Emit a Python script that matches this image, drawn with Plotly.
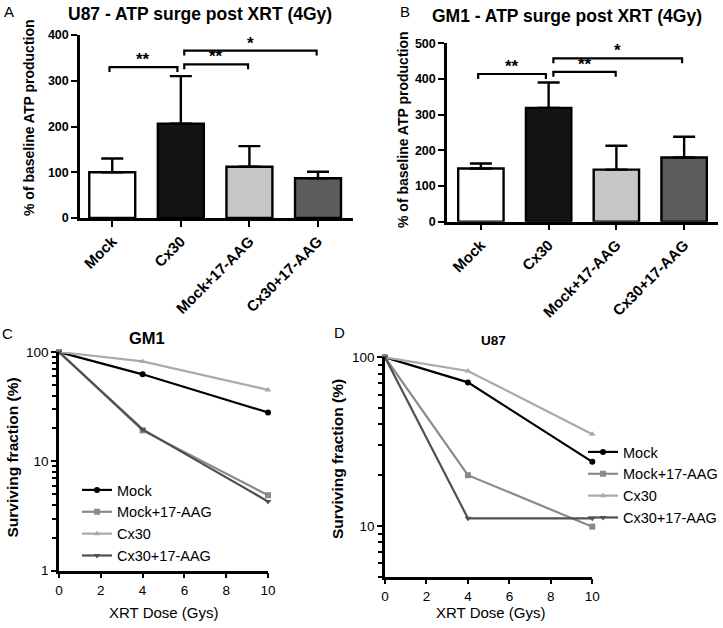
import plotly.graph_objects as go

# ---------------- data ----------------
bar_cats = ["Mock", "Cx30", "Mock+17-AAG", "Cx30+17-AAG"]
u87_atp = [100, 206, 112, 87]
u87_err = [30, 104, 45, 14]
gm1_atp = [149, 319, 146, 180]
gm1_err = [14, 71, 67, 58]

# significance brackets: (left index, right index, level, label)
u87_sig = [(-0.04, 0.95, 330, "**"), (1.05, 1.98, 336, "**"), (1.05, 2.98, 366, "*")]
gm1_sig = [(-0.04, 0.96, 414, "**"), (1.07, 1.99, 420, "**"), (1.07, 2.97, 458, "*")]

dose = [0, 4, 10]
series_names = ["Mock", "Mock+17-AAG", "Cx30", "Cx30+17-AAG"]
gm1_mock = [100, 62.5, 28]
gm1_mock17 = [100, 19.2, 4.9]
gm1_cx30 = [100, 82, 45]
gm1_cx30_17 = [100, 19.6, 4.3]
u87_mock = [100, 71, 24]
u87_mock17 = [100, 20, 9.9]
u87_cx30 = [100, 83, 35]
u87_cx30_17 = [100, 11.1, 11.1]

# ---------------- styles ----------------
FONT = "Liberation Sans, Arial, sans-serif"
bar_colors = ["#ffffff", "#141414", "#c6c6c6", "#5c5c5c"]
line_colors = ["#000000", "#8a8a8a", "#aaaaaa", "#505050"]
line_symbols = ["circle", "square", "triangle-up", "triangle-down"]

W, H = 723, 628
def px(x):
    return x / W
def py(y):
    return 1 - y / H

fig = go.Figure()

def bar_panel(vals, errs, xa, ya):
    fig.add_trace(go.Bar(
        x=list(range(len(bar_cats))), y=vals, width=0.67,
        marker=dict(color=bar_colors, line=dict(color="black", width=2.4)),
        error_y=dict(type="data", array=errs, arrayminus=[0] * len(errs), symmetric=False,
                     color="black", thickness=2.4, width=11),
        xaxis=xa, yaxis=ya, showlegend=False, hoverinfo="skip"))

bar_panel(u87_atp, u87_err, "x", "y")
bar_panel(gm1_atp, gm1_err, "x2", "y2")

gm1_series = [gm1_mock, gm1_mock17, gm1_cx30, gm1_cx30_17]
u87_series = [u87_mock, u87_mock17, u87_cx30, u87_cx30_17]
for i, name in enumerate(series_names):
    fig.add_trace(go.Scatter(
        x=dose, y=gm1_series[i], name=name, mode="lines+markers",
        line=dict(color=line_colors[i], width=2.2),
        marker=dict(symbol=line_symbols[i], size=6, color=line_colors[i]),
        xaxis="x3", yaxis="y3", cliponaxis=False, legend="legend"))
for i, name in enumerate(series_names):
    fig.add_trace(go.Scatter(
        x=dose, y=u87_series[i], name=name, mode="lines+markers",
        line=dict(color=line_colors[i], width=2.2),
        marker=dict(symbol=line_symbols[i], size=6, color=line_colors[i]),
        xaxis="x4", yaxis="y4", cliponaxis=False, legend="legend2"))

# brackets
shapes = []
annotations = []
def brackets(sig, xa, ya, tip):
    for (a, b, lvl, lab) in sig:
        shapes.append(dict(type="path", xref=xa, yref=ya,
                           path=f"M {a},{lvl - tip} L {a},{lvl} L {b},{lvl} L {b},{lvl - tip}",
                           line=dict(color="black", width=2.2)))
        annotations.append(dict(x=(a + b) / 2, y=lvl, xref=xa, yref=ya, text=lab, showarrow=False,
                                yanchor="bottom", yshift=-4,
                                font=dict(family=FONT, size=17, color="black", weight="bold")))
brackets(u87_sig, "x", "y", 11)
brackets(gm1_sig, "x2", "y2", 14)

bold_ytick = dict(family=FONT, size=12.5, color="black", weight="bold")
bold_xtick = dict(family=FONT, size=15, color="black", weight="bold")
reg_tick = dict(family=FONT, size=13.5, color="black")
axis_common = dict(showline=True, linecolor="black", linewidth=2.5, ticks="outside",
                   ticklen=6, tickwidth=2, tickcolor="black", showgrid=False, zeroline=False,
                   automargin=False)
axis_line = dict(axis_common, ticklen=5)

layout = dict(
    width=W, height=H, margin=dict(l=0, r=0, t=0, b=0, autoexpand=False),
    paper_bgcolor="white", plot_bgcolor="white",
    font=dict(family=FONT, color="black"),
    xaxis=dict(domain=[px(80), px(353)], anchor="y", range=[-0.47, 3.51],
               tickvals=list(range(4)), ticktext=bar_cats, tickangle=-45,
               tickfont=bold_xtick, **axis_common),
    yaxis=dict(domain=[py(218), py(35)], anchor="x", range=[0, 400], dtick=100,
               tickfont=bold_ytick, **axis_common),
    xaxis2=dict(domain=[px(447), px(718)], anchor="y2", range=[-0.5, 3.5],
                tickvals=list(range(4)), ticktext=bar_cats, tickangle=-45,
                tickfont=bold_xtick, **axis_common),
    yaxis2=dict(domain=[py(221.7), py(43.3)], anchor="x2", range=[0, 500], dtick=100,
                tickfont=bold_ytick, **axis_common),
    xaxis3=dict(domain=[px(59), px(268)], anchor="y3", range=[0, 10], dtick=2,
                tickfont=reg_tick, **axis_line),
    yaxis3=dict(domain=[py(570.7), py(352)], anchor="x3", type="log", range=[0, 2],
                tickvals=[1, 10, 100], ticktext=["1", "10", "100"], tickfont=reg_tick,
                minor=dict(tickmode="array",
                           tickvals=[2, 3, 4, 5, 6, 7, 8, 9, 20, 30, 40, 50, 60, 70, 80, 90],
                           ticks="outside", ticklen=4, tickwidth=2, tickcolor="black", showgrid=False),
                **axis_line),
    xaxis4=dict(domain=[px(385), px(592.3)], anchor="y4", range=[0, 10], dtick=2,
                tickfont=reg_tick, **axis_line),
    yaxis4=dict(domain=[py(576.7), py(357.3)], anchor="x4", type="log", range=[0.69897, 2],
                tickvals=[10, 100], ticktext=["10", "100"], tickfont=reg_tick,
                minor=dict(tickmode="array",
                           tickvals=[5, 6, 7, 8, 9, 20, 30, 40, 50, 60, 70, 80, 90],
                           ticks="outside", ticklen=4, tickwidth=2, tickcolor="black", showgrid=False),
                **axis_line),
    legend=dict(x=px(77), y=py(474), xanchor="left", yanchor="top", bgcolor="rgba(0,0,0,0)",
                font=dict(family=FONT, size=14.5, color="black"), tracegroupgap=0, itemwidth=30),
    legend2=dict(x=px(583), y=py(436), xanchor="left", yanchor="top", bgcolor="rgba(0,0,0,0)",
                 font=dict(family=FONT, size=14.5, color="black"), tracegroupgap=0, itemwidth=30),
    shapes=shapes,
)

def txt(x, y, s, size, bold=False, angle=0):
    annotations.append(dict(x=px(x), y=py(y), xref="paper", yref="paper", text=s, showarrow=False,
                            xanchor="center", yanchor="middle", textangle=angle,
                            font=dict(family=FONT, size=size, color="black",
                                      weight="bold" if bold else "normal")))

txt(9, 12, "A", 15)
txt(405, 12, "B", 15)
txt(7, 333, "C", 15)
txt(339, 332, "D", 15)
txt(200, 14, "U87 - ATP surge post XRT (4Gy)", 17.5, True)
txt(567, 16, "GM1 - ATP surge post XRT (4Gy)", 17.5, True)
txt(29, 118, "% of baseline ATP production", 14, True, -90)
txt(403, 130, "% of baseline ATP production", 14, True, -90)
txt(147, 338, "GM1", 16.5, True)
txt(493, 340, "U87", 13.5, True)
txt(12.5, 458, "Surviving fraction (%)", 15.5, True, -90)
txt(337, 459, "Surviving fraction (%)", 15.5, True, -90)
txt(163, 612, "XRT Dose (Gys)", 15)
txt(490, 612, "XRT Dose (Gys)", 15)

layout["annotations"] = annotations
fig.update_layout(**layout)
fig.write_html("out.html", config={"displayModeBar": False},
               post_script="document.body.style.margin='0';document.body.style.overflow='hidden';")
